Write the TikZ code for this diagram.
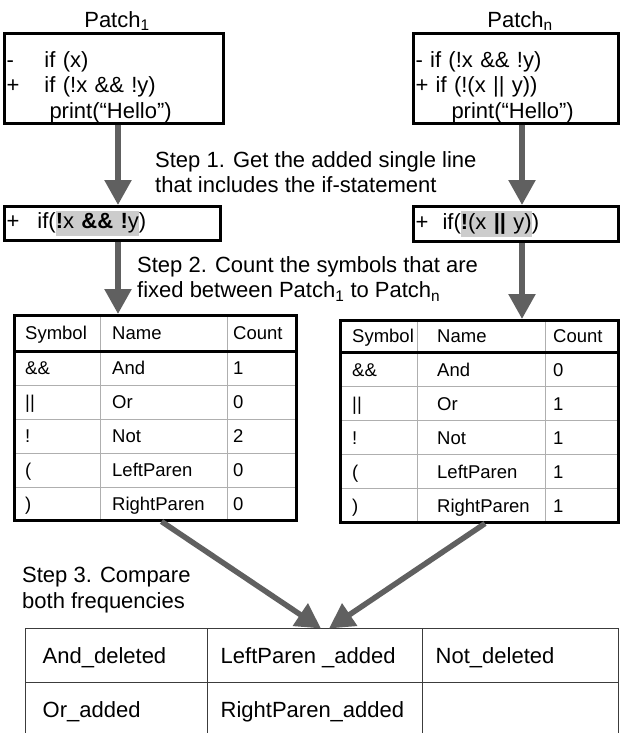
\documentclass[tikz,border=0pt]{standalone}
\usepackage{fontspec}
\setmainfont{Liberation Sans}
\usetikzlibrary{arrows.meta, positioning, calc}
\definecolor{cFlow}{RGB}{96, 96, 96}
\definecolor{cMark}{RGB}{204, 204, 204}
\definecolor{cGrid}{RGB}{175, 175, 175}
\definecolor{cCell}{RGB}{60, 60, 60}
\newcommand{\bigtext}{\fontsize{22}{25.5}\selectfont}
\newcommand{\cellsize}{\fontsize{18.5}{21}\selectfont}
\newcommand{\pfx}[2]{\makebox[#1][l]{#2}}
\newcommand{\hlt}[1]{{\setlength{\fboxsep}{0pt}\colorbox{cMark}{\strut#1}}}
\newcommand{\topgap}{\rule{0pt}{34pt}}
\tikzset{
    % code boxes (patch lines)
    codeBox/.style={
        draw, line width=3pt, rectangle, anchor=north west,
        align=left, inner xsep=2pt, inner ysep=0pt, font=\bigtext
    },
    % table frames
    tableBox/.style={draw, line width=3pt, rectangle, anchor=north west, inner sep=0pt},
    flow/.style={draw=cFlow, line width=5.5pt, -{Triangle[length=25pt, width=26pt]}},
    stepText/.style={font=\bigtext, align=left, anchor=west, inner sep=0pt},
    patchText/.style={font=\bigtext, inner sep=0pt},
    cellText/.style={font=\cellsize, anchor=west, inner sep=0pt, text height=13.2pt, text depth=0pt},
    bigCell/.style={font=\bigtext, anchor=west, inner sep=0pt, text height=15.8pt, text depth=0pt},
    gridLine/.style={draw=cGrid, line width=1pt},
    cellLine/.style={draw=cCell, line width=1.2pt}
}

\begin{document}
\begin{tikzpicture}[x=1pt, y=-1pt]
	\useasboundingbox (0,0) rectangle (621,733);

	% ==========================================
	% 1. Patches
	% ==========================================
	\node [codeBox, text width=215pt, minimum height=88pt] (p1) at (3, 32) {
		\topgap\pfx{38pt}{-}if (x)\\
		\pfx{38pt}{+}if (!x \&\& !y)\\
		\hspace*{43pt}print(“Hello”)
	};
	\node [patchText, above=1pt of p1, xshift=3pt] (lab1) {Patch\textsubscript{1}};

	\node [codeBox, text width=201pt, minimum height=83pt] (p2) at (412, 32) {
		\topgap- if (!x \&\& !y)\\
		+ if (!(x || y))\\
		\hspace*{36pt}print(“Hello”)
	};
	\node [patchText, above=1pt of p2, xshift=4pt] (lab2) {Patch\textsubscript{n}};

	% ==========================================
	% 2. Added if-lines
	% ==========================================
	\node [codeBox, text width=212pt, minimum height=34pt] (l1) at (3, 205) {
		\pfx{31pt}{+}if(\hlt{\textbf{!}x \textbf{\&\&} \textbf{!}y})
	};
	\node [codeBox, text width=201pt, minimum height=35pt] (r1) at (412, 205) {
		\pfx{27pt}{+}if(\hlt{\textbf{!}(x \textbf{||} y)})
	};

	\node [stepText] (step1) at (155, 172) {
		Step 1. Get the added single line\\
		that includes the if-statement
	};

	% ==========================================
	% 3. Symbol tables
	% ==========================================
	% Patch_1
	\node [tableBox, minimum width=282pt, minimum height=204.5pt] (t1) at (13, 314) {};
	\draw [gridLine] ($(t1.north west)+(87,3)$) -- ($(t1.south west)+(87,-3)$);
	\draw [gridLine] ($(t1.north west)+(214,3)$) -- ($(t1.south west)+(214,-3)$);
	\foreach \i in {1,...,4}
		\draw [gridLine] ($(t1.north west)+(3,37+34*\i)$) -- ($(t1.north east)+(-3,37+34*\i)$);
	\draw [line width=3pt] ($(t1.north west)+(0,37)$) -- ($(t1.north east)+(0,37)$);
	\node [cellText] (t1h1) at ($(t1.north west)+(12,18.5)$) {Symbol};
	\node [cellText] (t1h2) at ($(t1.north west)+(99,18.5)$) {Name};
	\node [cellText] (t1h3) at ($(t1.north west)+(220,18.5)$) {Count};
	\foreach \sym/\nm/\cnt [count=\i] in {{\&\&}/And/1, {||}/Or/0, {!}/Not/2, {(}/LeftParen/0, {)}/RightParen/0} {
		\node [cellText] (t1s\i) at ($(t1.north west)+(12,20+34*\i)$) {\sym};
		\node [cellText] (t1n\i) at ($(t1.north west)+(99,20+34*\i)$) {\nm};
		\node [cellText] (t1c\i) at ($(t1.north west)+(220,20+34*\i)$) {\cnt};
	}

	% Patch_n
	\node [tableBox, minimum width=278pt, minimum height=201.5pt] (t2) at (339, 319) {};
	\draw [gridLine] ($(t2.north west)+(78,3)$) -- ($(t2.south west)+(78,-3)$);
	\draw [gridLine] ($(t2.north west)+(206,3)$) -- ($(t2.south west)+(206,-3)$);
	\foreach \i in {1,...,4}
		\draw [gridLine] ($(t2.north west)+(3,33.5+34*\i)$) -- ($(t2.north east)+(-3,33.5+34*\i)$);
	\draw [line width=3pt] ($(t2.north west)+(0,33.5)$) -- ($(t2.north east)+(0,33.5)$);
	\node [cellText] (t2h1) at ($(t2.north west)+(13,16.75)$) {Symbol};
	\node [cellText] (t2h2) at ($(t2.north west)+(98,16.75)$) {Name};
	\node [cellText] (t2h3) at ($(t2.north west)+(214,16.75)$) {Count};
	\foreach \sym/\nm/\cnt [count=\i] in {{\&\&}/And/0, {||}/Or/1, {!}/Not/1, {(}/LeftParen/1, {)}/RightParen/1} {
		\node [cellText] (t2s\i) at ($(t2.north west)+(13,16.5+34*\i)$) {\sym};
		\node [cellText] (t2n\i) at ($(t2.north west)+(98,16.5+34*\i)$) {\nm};
		\node [cellText] (t2c\i) at ($(t2.north west)+(214,16.5+34*\i)$) {\cnt};
	}

	\node [stepText] (step2) at (137, 279) {
		Step 2. Count the symbols that are\\
		fixed between Patch\textsubscript{1} to Patch\textsubscript{n}
	};

	% ==========================================
	% 4. Compared frequencies
	% ==========================================
	\node [stepText] (step3) at (22, 590) {
		Step 3. Compare\\
		both frequencies
	};

	\node [anchor=north west, inner sep=0pt, outer sep=0pt, minimum width=593pt, minimum height=120pt] (bt) at (25.5, 628.5) {};
	\draw [cellLine] (bt.south west) -- (bt.north west) -- (bt.north east) -- (bt.south east);
	\draw [cellLine] ($(bt.north west)+(182,0)$) -- ($(bt.south west)+(182,0)$);
	\draw [cellLine] ($(bt.north west)+(397,0)$) -- ($(bt.south west)+(397,0)$);
	\draw [cellLine] ($(bt.north west)+(0,54)$) -- ($(bt.north east)+(0,54)$);
	\foreach \txt/\cx/\cy [count=\i] in {And\_deleted/17/27, LeftParen \_added/195/27, Not\_deleted/410/27,
			Or\_added/17/81, RightParen\_added/195/81}
		\node [bigCell] (bc\i) at ($(bt.north west)+(\cx,\cy)$) {\txt};

	% ==========================================
	% arrows
	% ==========================================
	\draw [flow] ([xshift=4pt]p1.south) -- ([xshift=4pt]p1.south |- l1.north);
	\draw [flow] ([xshift=6pt]p2.south) -- ([xshift=6pt]p2.south |- r1.north);

	\draw [flow] ([xshift=5.5pt]l1.south) -- ([xshift=5.5pt]l1.south |- t1.north);
	\draw [flow] ([xshift=6pt]r1.south) -- ([xshift=6pt]r1.south |- t2.north);

	\draw [flow] ([xshift=6pt]t1.south) -- ([xshift=-1pt]bt.north);
	\draw [flow] ([xshift=5.5pt]t2.south) -- ([xshift=7pt]bt.north);

\end{tikzpicture}
\end{document}
